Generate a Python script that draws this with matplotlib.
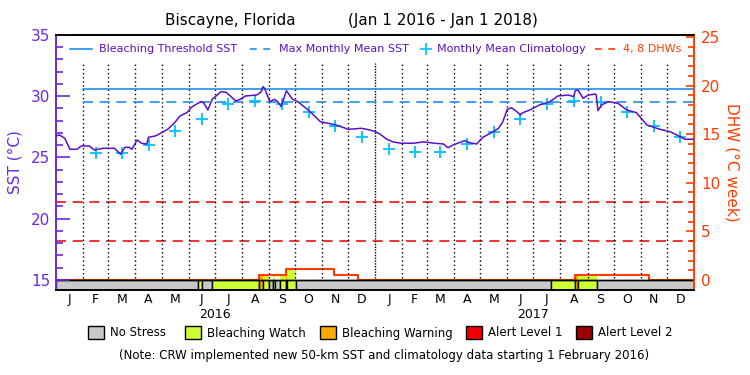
import numpy as np
import matplotlib
matplotlib.use("Agg")
import matplotlib.pyplot as plt
from matplotlib.patches import Rectangle
from matplotlib.lines import Line2D

# days are counted from 1 Jan 2016 (731 days to 1 Jan 2018)
sst_day = [0, 4, 10, 16, 24, 29, 38, 44, 54, 67, 74, 79, 84, 87, 93, 98, 104, 106,
           114, 121, 128, 136, 142, 150, 156, 166, 169, 174, 179, 189, 195, 206, 211,
           217, 230, 235, 237, 239, 245, 250, 254, 258, 264, 271, 277, 288, 294, 303,
           312, 321, 335, 350, 360, 366, 371, 379, 386, 396, 409, 421, 434, 444, 449,
           455, 468, 474, 482, 489, 499, 507, 512, 517, 522, 528, 532, 535, 543, 554,
           566, 575, 587, 593, 595, 598, 604, 610, 618, 619, 621, 625, 633, 644, 654,
           665, 677, 692, 704, 715, 721, 731]
sst_val = [26.76, 26.84, 26.57, 25.67, 25.67, 25.94, 25.94, 25.61, 25.75, 25.75, 25.26,
           25.83, 25.83, 25.67, 26.43, 26.16, 26.10, 26.65, 26.76, 27.02, 27.30, 27.84,
           28.39, 28.66, 29.15, 29.56, 29.47, 28.88, 29.75, 30.37, 30.32, 29.61, 29.75,
           30.02, 30.10, 30.35, 30.78, 30.65, 29.56, 29.75, 29.56, 29.15, 30.45, 29.75,
           29.56, 28.93, 28.55, 27.92, 27.79, 27.65, 27.30, 27.38, 27.24, 27.10, 26.92,
           26.49, 26.27, 26.16, 26.16, 26.27, 26.16, 26.10, 25.80, 26.02, 26.37, 26.21,
           26.10, 26.65, 27.02, 27.38, 27.92, 28.93, 29.06, 28.74, 28.47, 28.66, 28.88,
           29.29, 29.56, 30.02, 30.10, 29.96, 30.45, 30.51, 29.83, 30.10, 30.18, 30.10,
           28.82, 29.29, 29.56, 29.42, 28.88, 28.66, 27.65, 27.30, 27.10, 26.70, 26.49,
           26.49]

clim_2016 = [25.39, 25.34, 26.02, 27.16, 28.17, 29.34, 29.61, 29.37, 28.69, 27.57, 26.64]  # Feb-Dec
clim_2017 = [25.72, 25.42, 25.42, 26.07, 27.11, 28.17, 29.34, 29.64, 29.50, 28.74, 27.57, 26.64]

mmm = 29.56
bleach_threshold = 30.6
data_start = 31  # 1 Feb 2016

dhw_day = [0, 233, 263, 318, 346, 595, 679, 731]
dhw_val = [0, 0.55, 1.1, 0.5, 0, 0.5, 0, 0]

# stress level segments: 0 no stress, 1 watch, 2 warning, 3 alert 1, 4 alert 2
stress_start = [0, 163, 167, 179, 233, 237, 244, 249, 251, 257, 263, 265, 275, 567, 595, 598, 620]
stress_level = [0, 1, 0, 1, 2, 1, 0, 1, 0, 1, 2, 1, 0, 1, 2, 1, 0]

stress_names = ["No Stress", "Bleaching Watch", "Bleaching Warning", "Alert Level 1", "Alert Level 2"]
stress_colors = ["#c8c8c8", "#ccff33", "#ffaa00", "#ee0000", "#990000"]

month_letters = list("JFMAMJJASOND")
month_len = [31, 29, 31, 30, 31, 30, 31, 31, 30, 31, 30, 31,
             31, 28, 31, 30, 31, 30, 31, 31, 30, 31, 30, 31]

purple = "#5a0fc8"
axis_purple = "#6a28e0"
cyan = "#1e8fef"
cross = "#00c0ff"
orange_red = "#ff3c00"

month_start = np.concatenate([[0], np.cumsum(month_len)])
month_mid = month_start[:-1] + np.array(month_len) / 2.0
total_days = month_start[-1]

fig = plt.figure(figsize=(7.5, 3.75), dpi=100)
ax = fig.add_axes([56 / 750, 1 - 290 / 375, 638 / 750, 255 / 375])
ax2 = ax.twinx()

ax.set_xlim(0, total_days)
ax.set_ylim(14.18, 35)
ax2.set_ylim(-1.03, 25.2)
ax.set_zorder(ax2.get_zorder() + 1)
ax.patch.set_visible(False)

# month grid
for i, d in enumerate(month_start[1:-1]):
    ls = (0, (1, 1)) if i == 11 else (0, (1, 2))
    ax.plot([d, d], [15.2, 32.7], color="black", lw=1, ls=ls, zorder=1)

# threshold lines
ax.plot([data_start, total_days], [bleach_threshold] * 2, color=cyan, lw=1.2, zorder=2)
ax.plot([data_start, total_days], [mmm] * 2, color=cyan, lw=1.2, ls=(0, (6, 4)), zorder=2)

# DHW reference lines
for lvl in (4, 8):
    ax2.plot([0, total_days], [lvl, lvl], color="#ee1111", lw=1.2, ls=(0, (6, 4)))

# climatology crosses
ax.plot(month_mid[1:12], clim_2016, ls="none", marker="+", ms=9, mew=1.3, color=cross, zorder=3)
ax.plot(month_mid[12:], clim_2017, ls="none", marker="+", ms=9, mew=1.3, color=cross, zorder=3)

# SST
ax.plot(sst_day, sst_val, color=purple, lw=1.1, zorder=4)

# stress bar along the bottom
ends = stress_start[1:] + [total_days]
for s, e, lvl in zip(stress_start, ends, stress_level):
    ax2.add_patch(Rectangle((s, -1.03), e - s, 1.03, facecolor=stress_colors[lvl],
                            edgecolor="black", lw=1, zorder=2))
    if lvl > 0:
        seg_x = np.array([s, e])
        idx = np.searchsorted(dhw_day, s, side="right") - 1
        ax2.fill_between(seg_x, 0, dhw_val[idx], color=stress_colors[lvl], lw=0, zorder=1)

ax2.step(dhw_day, dhw_val, where="post", color=orange_red, lw=1.5, zorder=1.5)
ax2.plot([0, total_days], [0, 0], color="black", lw=1, zorder=3)

# axes styling
ax.set_xticks([])
ax.set_yticks([15, 20, 25, 30, 35])
ax.set_yticks(np.arange(15, 35, 1), minor=True)
ax.tick_params(axis="y", which="major", direction="in", length=10, width=1.2,
               colors=axis_purple, labelsize=11, pad=4)
ax.tick_params(axis="y", which="minor", direction="in", length=5, width=1.2, colors=axis_purple)
ax2.set_yticks([0, 5, 10, 15, 20, 25])
ax2.set_yticks(np.arange(0, 26, 1), minor=True)
ax2.tick_params(axis="y", which="major", direction="in", length=6, width=1.2,
                colors=orange_red, labelsize=11, pad=5)
ax2.tick_params(axis="y", which="minor", direction="in", length=4, width=1.2, colors=orange_red)
ax2.set_xticks([])
for a in (ax, ax2):
    a.spines["top"].set_color("black")
    a.spines["bottom"].set_color("black")
    a.spines["left"].set_color(axis_purple)
    a.spines["right"].set_color(orange_red)
    for sp in a.spines.values():
        sp.set_linewidth(1.2)
ax.set_ylabel("SST (°C)", color=axis_purple, fontsize=11, labelpad=6)
ax2.set_ylabel("DHW (°C week)", color=orange_red, fontsize=11, rotation=-90, labelpad=14)

# month and year labels
for m, letter in zip(month_mid, month_letters * 2):
    ax.text(m, -0.012, letter, transform=ax.get_xaxis_transform(), ha="center", va="top", fontsize=9)
ax.text(month_start[6], -0.07, "2016", transform=ax.get_xaxis_transform(), ha="center", va="top", fontsize=9)
ax.text(month_start[18], -0.07, "2017", transform=ax.get_xaxis_transform(), ha="center", va="top", fontsize=9)

# legend inside the plot
ly = 0.945
ax.add_line(Line2D([0.022, 0.056], [ly, ly], transform=ax.transAxes, color=cyan, lw=1.2))
ax.text(0.067, ly, "Bleaching Threshold SST", transform=ax.transAxes, va="center", fontsize=8, color=purple)
ax.add_line(Line2D([0.304, 0.340], [ly, ly], transform=ax.transAxes, color=cyan, lw=1.2, ls=(0, (4, 4))))
ax.text(0.349, ly, "Max Monthly Mean SST", transform=ax.transAxes, va="center", fontsize=8, color=purple)
ax.add_line(Line2D([0.58], [ly], transform=ax.transAxes, color=cross, marker="+", ms=8, mew=1.2, ls="none"))
ax.text(0.597, ly, "Monthly Mean Climatology", transform=ax.transAxes, va="center", fontsize=8, color=purple)
ax.add_line(Line2D([0.845, 0.879], [ly, ly], transform=ax.transAxes, color=orange_red, lw=1.2, ls=(0, (4, 4))))
ax.text(0.889, ly, "4, 8 DHWs", transform=ax.transAxes, va="center", fontsize=8, color=orange_red)

fig.text(165 / 750, 1 - 20 / 375, "Biscayne, Florida", ha="left", va="center", fontsize=11)
fig.text(348 / 750, 1 - 20 / 375, "(Jan 1 2016 - Jan 1 2018)", ha="left", va="center", fontsize=11)

# stress legend at the bottom
box_x = [88, 185, 320, 466, 576]
for bx, name, col in zip(box_x, stress_names, stress_colors):
    fig.add_artist(Rectangle((bx / 750, 1 - 339 / 375), 16 / 750, 13 / 375, transform=fig.transFigure,
                             facecolor=col, edgecolor="black", lw=1))
    fig.text((bx + 22) / 750, 1 - 333 / 375, name, ha="left", va="center", fontsize=8.5)
fig.text(384 / 750, 1 - 355 / 375,
         "(Note: CRW implemented new 50-km SST and climatology data starting 1 February 2016)",
         ha="center", va="center", fontsize=8.5)

fig.savefig("out.png", dpi=100)
